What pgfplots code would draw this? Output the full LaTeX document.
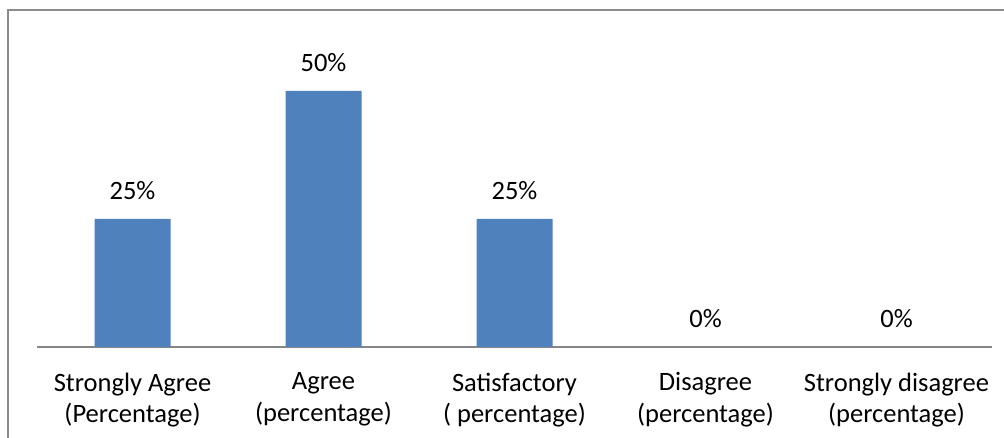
\documentclass[border=0pt]{standalone}
\usepackage{fontspec}
\setmainfont{Carlito}
\usepackage{pgfplots}
\pgfplotsset{compat=1.18}
\definecolor{barblue}{HTML}{4F81BD}
\definecolor{framegray}{HTML}{8C8C8C}
\definecolor{axisgray}{HTML}{868686}
\begin{document}
\begin{tikzpicture}
\useasboundingbox (0pt,0pt) rectangle (1004pt,438pt);
\draw[framegray, line width=2pt] (8pt,-2pt) -- (8pt,427.5pt) -- (1010pt,427.5pt);
\begin{axis}[
  at={(37pt,91pt)}, anchor=south west,
  scale only axis, width=955pt, height=307.2pt,
  xmin=-0.5, xmax=4.5, ymin=0, ymax=60,
  axis y line=none,
  axis x line*=bottom,
  x axis line style={-, draw=axisgray, line width=1.5pt},
  xtick={0,1,2,3,4},
  xticklabels={{Strongly Agree\\(Percentage)},{Agree\\(percentage)},{Satisfactory\\( percentage)},{Disagree\\(percentage)},{Strongly disagree\\(percentage)}},
  xticklabel style={align=center, font=\fontsize{26.5}{31.5}\selectfont, anchor=north, inner sep=0pt, yshift=-25.5pt},
  major tick length=0pt,
  ybar, bar width=76pt,
  point meta=explicit symbolic,
  nodes near coords,
  nodes near coords style={font=\fontsize{26.5}{30}\selectfont, anchor=base, inner sep=0pt, yshift=19pt},
  clip=false,
]
\addplot[fill=barblue, draw=none] coordinates {(0,25) [25\%] (1,50) [50\%] (2,25) [25\%] (3,0) [0\%] (4,0) [0\%]};
\end{axis}
\end{tikzpicture}
\end{document}
